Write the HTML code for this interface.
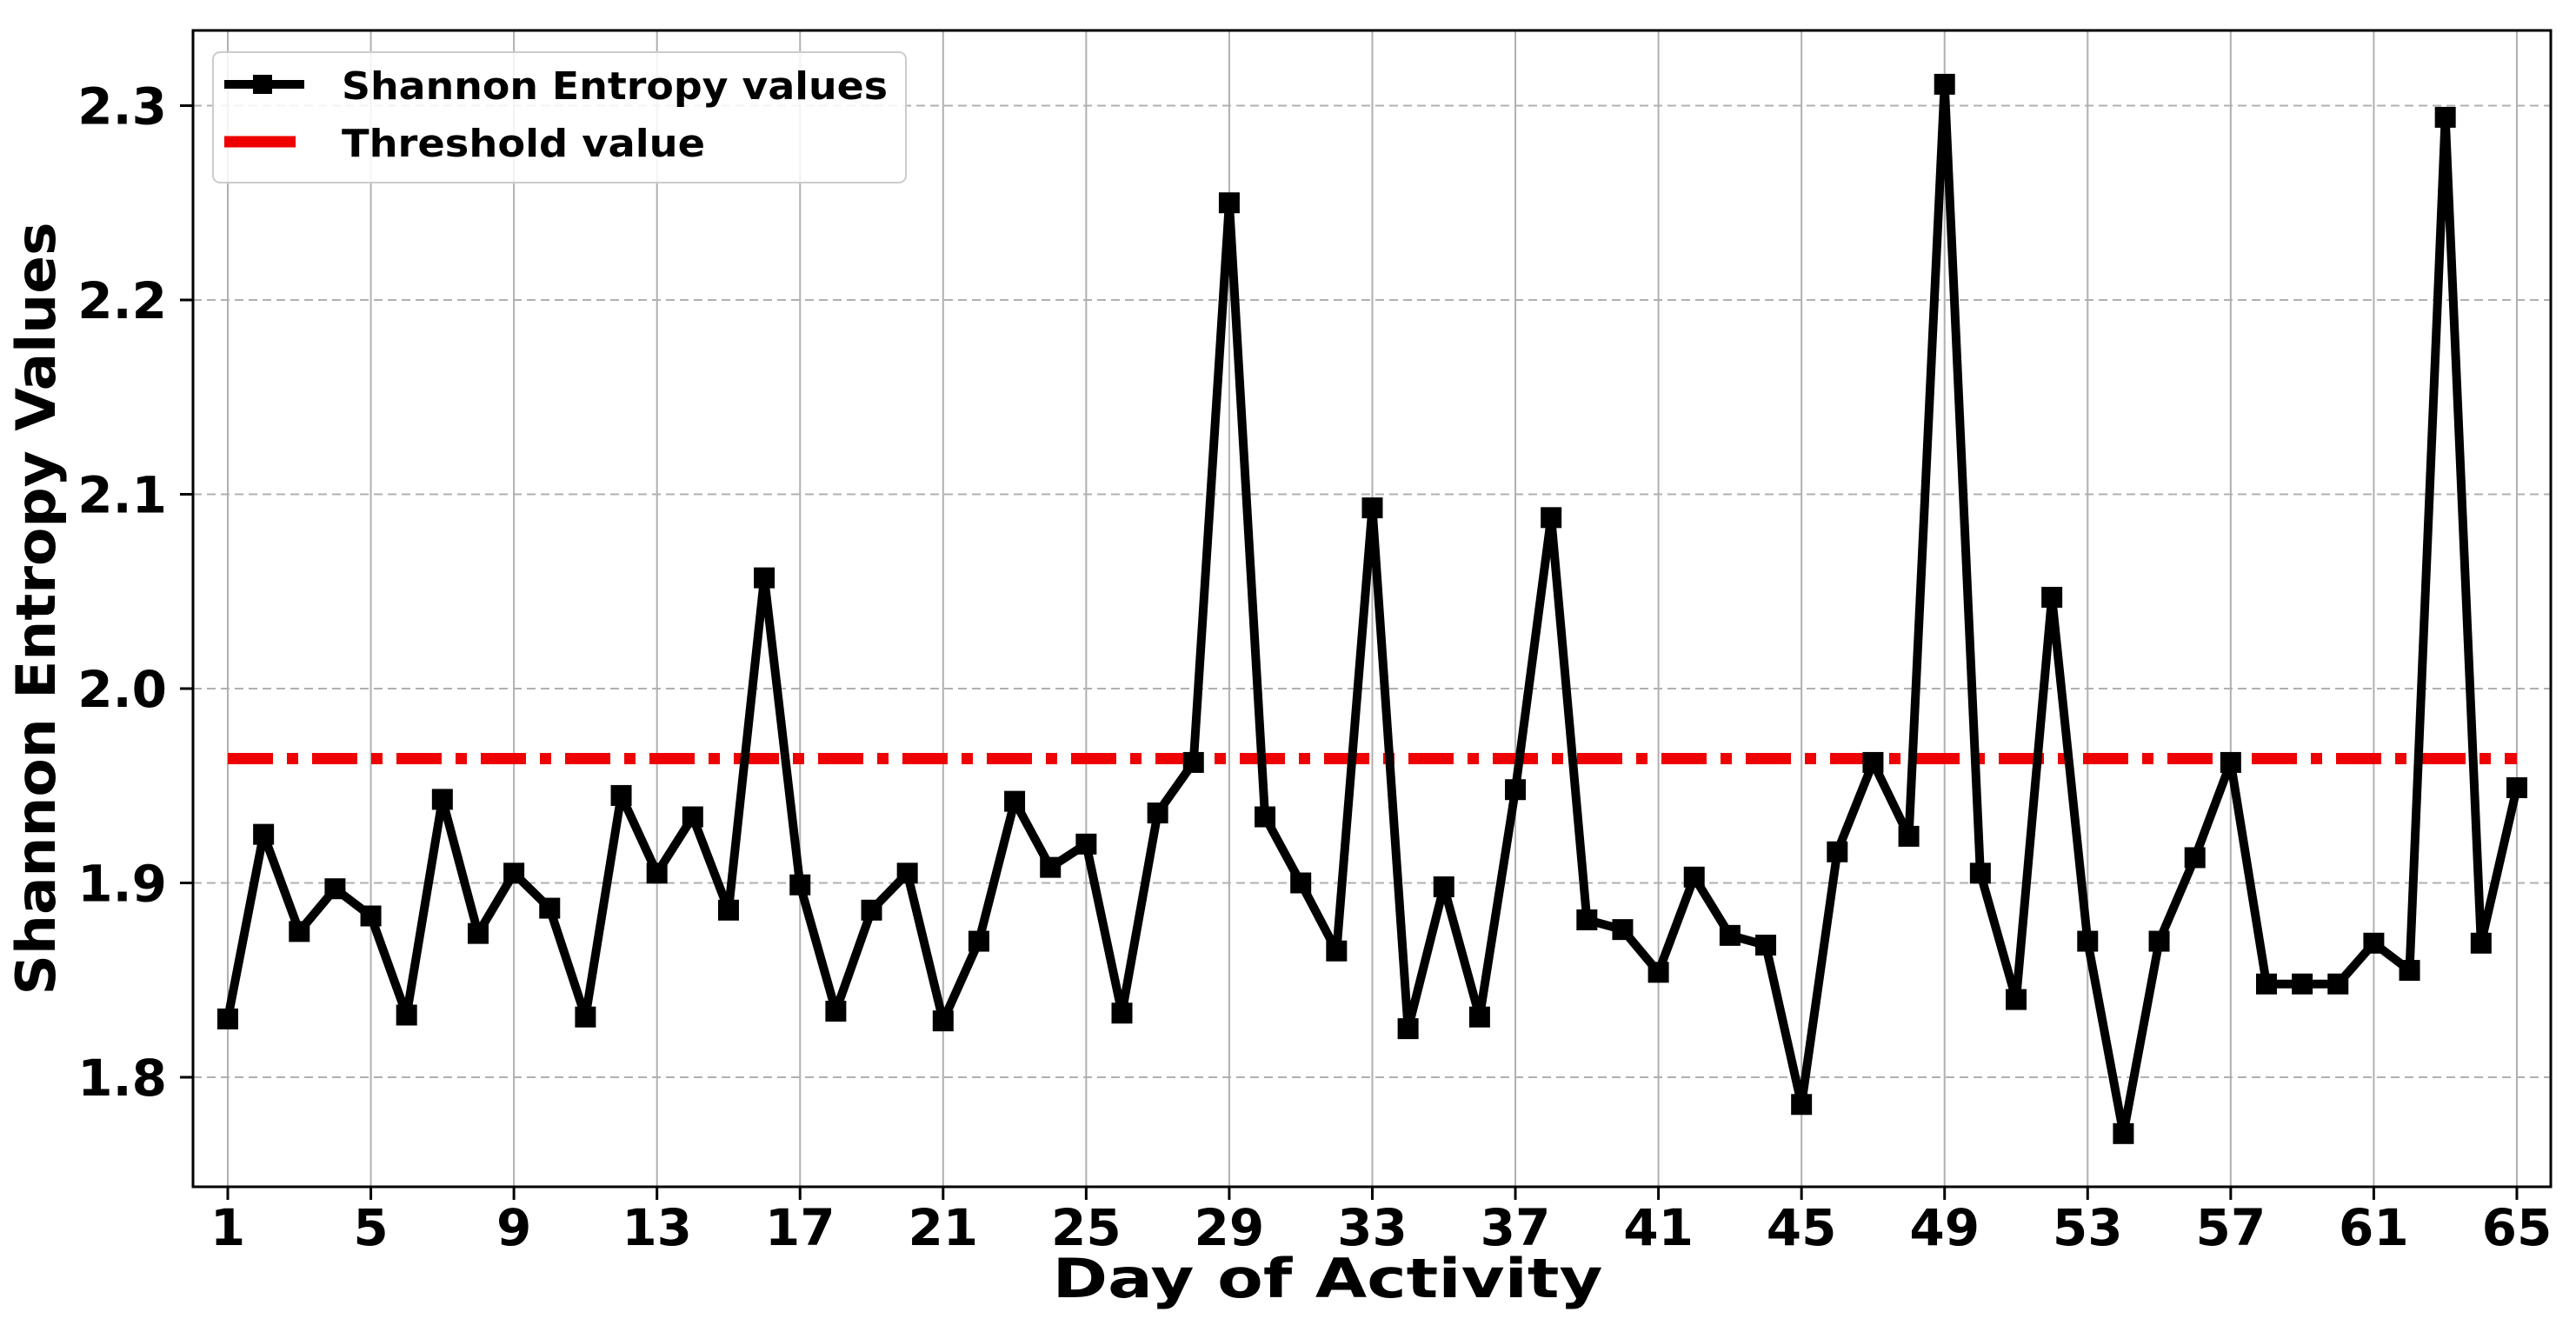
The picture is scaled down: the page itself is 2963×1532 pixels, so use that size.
<!DOCTYPE html>
<html><head><meta charset="utf-8"><style>body{margin:0;background:#fff}svg{display:block}text{font-family:"DejaVu Sans","Liberation Sans",sans-serif;font-weight:bold;fill:#000}</style></head>
<body>
<svg id="chart" width="2963" height="1532" viewBox="0 0 2963 1532" xmlns="http://www.w3.org/2000/svg">
<g id="grid"></g>
<g id="series"></g>
<rect x="222" y="35" width="2712" height="1330" fill="none" stroke="#000" stroke-width="3"/>
<g id="ticks"></g>
<text x="1527" y="1492" text-anchor="middle" font-size="62" textLength="633" lengthAdjust="spacingAndGlyphs">Day of Activity</text>
<text transform="translate(63,700) rotate(-90)" text-anchor="middle" font-size="62" textLength="889" lengthAdjust="spacingAndGlyphs">Shannon Entropy Values</text>
<g>
<rect x="245" y="60" width="797" height="150" rx="8" fill="#fff" fill-opacity="0.85" stroke="#ccc" stroke-width="2"/>
<line x1="258" y1="97" x2="350" y2="97" stroke="#000" stroke-width="10"/>
<rect x="291" y="86" width="22" height="22" fill="#000"/>
<text x="393" y="114" font-size="44" textLength="628" lengthAdjust="spacingAndGlyphs">Shannon Entropy values</text>
<line x1="258" y1="163" x2="340" y2="163" stroke="#e00" stroke-width="13"/>
<text x="393" y="180" font-size="44" textLength="418" lengthAdjust="spacingAndGlyphs">Threshold value</text>
</g>
</svg>
<script>
const days = Array.from({length:65},(_,i)=>i+1);
const entropy = [1.830,1.925,1.875,1.897,1.883,1.832,1.943,1.874,1.905,1.887,1.831,1.945,1.905,1.934,1.886,2.057,1.899,1.834,1.886,1.905,1.829,1.870,1.942,1.908,1.920,1.833,1.936,1.962,2.250,1.934,1.900,1.865,2.093,1.825,1.898,1.831,1.948,2.088,1.881,1.876,1.854,1.903,1.873,1.868,1.786,1.916,1.962,1.924,2.311,1.905,1.840,2.047,1.870,1.771,1.870,1.913,1.962,1.848,1.848,1.848,1.869,1.855,2.294,1.869,1.949];
const threshold = [1.964];
const xTicks = [1,5,9,13,17,21,25,29,33,37,41,45,49,53,57,61,65];
const yTicks = [1.8,1.9,2.0,2.1,2.2,2.3];
const yTickLabels = ["1.8","1.9","2.0","2.1","2.2","2.3"];

const NS="http://www.w3.org/2000/svg";
const X=d=>262+(d-1)*41.14;
const Y=v=>1239-(v-1.8)*2235;
function mk(tag,parent,attrs){const e=document.createElementNS(NS,tag);for(const k in attrs)e.setAttribute(k,attrs[k]);document.getElementById(parent).appendChild(e);return e;}

xTicks.forEach(t=>{
  const g=mk('line','grid',{x1:X(t),x2:X(t),y1:35,y2:1365,stroke:'#b0b0b0','stroke-width':2});
  
  
  const tk=mk('line','ticks',{x1:X(t),x2:X(t),y1:1365,y2:1380,stroke:'#000','stroke-width':3});
  
  
  const tl=mk('text','ticks',{x:X(t),y:1432,'text-anchor':'middle','font-size':58});
  tl.textContent=t;
  
  
});
yTicks.forEach((t,i)=>{
  const g=mk('line','grid',{x1:222,x2:2934,y1:Y(t),y2:Y(t),stroke:'#b0b0b0','stroke-width':2,'stroke-dasharray':'10 6'});
  
  
  const tk=mk('line','ticks',{x1:207,x2:222,y1:Y(t),y2:Y(t),stroke:'#000','stroke-width':3});
  
  
  const tl=mk('text','ticks',{x:192,y:Y(t)+21,'text-anchor':'end','font-size':58});
  tl.textContent=yTickLabels[i];
  
  
});
const th=mk('line','series',{x1:X(days[0]),x2:X(days[days.length-1]),y1:Y(threshold[0]),y2:Y(threshold[0]),stroke:'#e00','stroke-width':13,'stroke-dasharray':'52 16 13 16'});


const ln=mk('polyline','series',{points:days.map((d,i)=>X(d)+','+Y(entropy[i])).join(' '),fill:'none',stroke:'#000','stroke-width':10,'stroke-linejoin':'miter','stroke-miterlimit':2});


days.forEach((d,i)=>{
  const m=mk('rect','series',{x:X(d)-12,y:Y(entropy[i])-12,width:24,height:24,fill:'#000'});
  
  
});
</script>
</body></html>
